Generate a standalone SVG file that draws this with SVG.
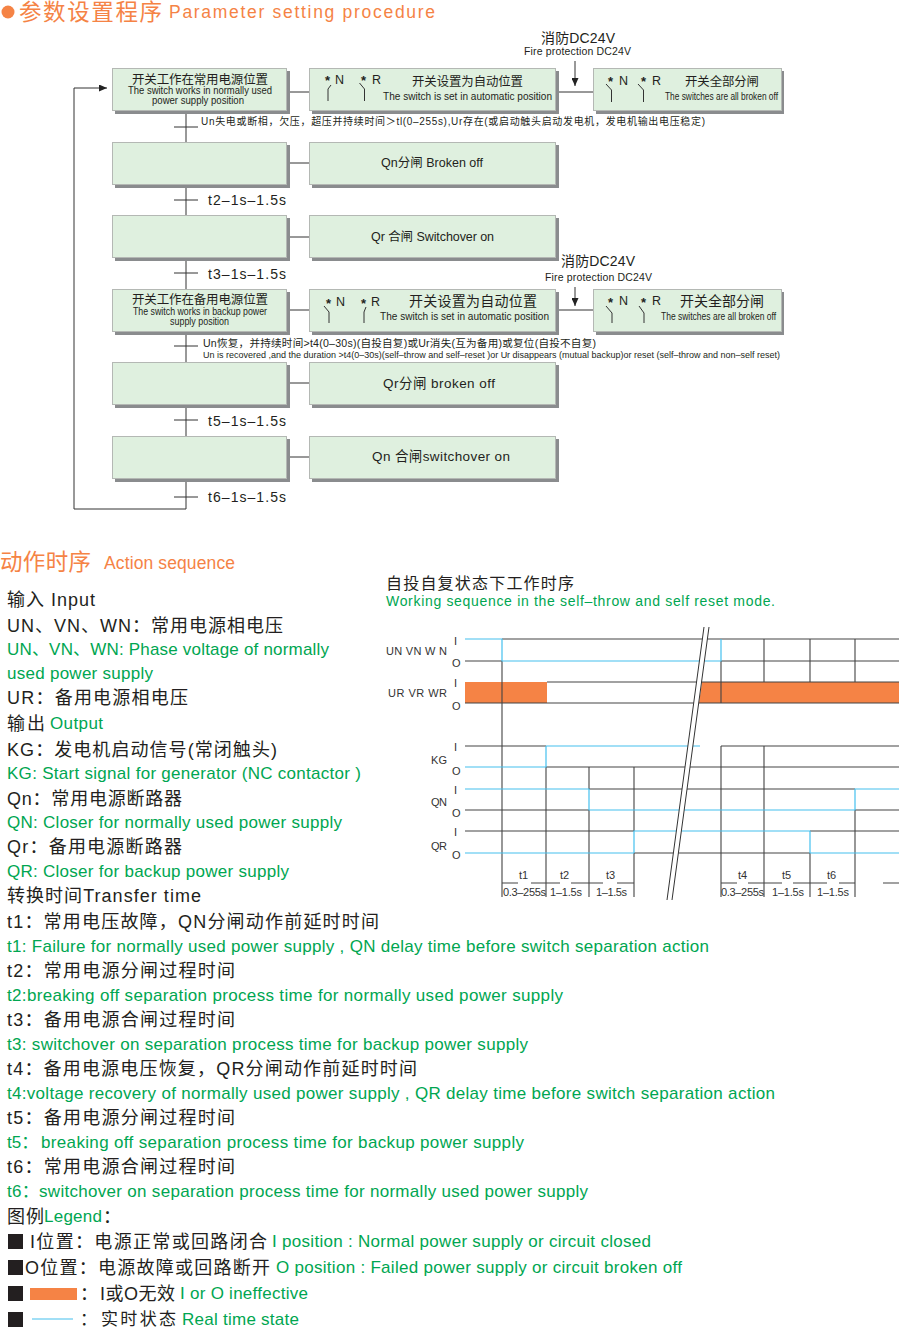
<svg xmlns="http://www.w3.org/2000/svg" width="900" height="1327" viewBox="0 0 900 1327">
<style>
text{font-family:"Liberation Sans","Noto Sans CJK SC",sans-serif;fill:#231f20}
.h{fill:#f58345;font-size:22.5px}
.he{fill:#f58345;font-size:17.5px}
.l{font-size:18px}
.g{font-size:17px;fill:#00a651}
.t{font-size:14px}
.s{font-size:10px}
.m{font-size:12.5px}
.d{font-size:11px;fill:#333}
.sy{font-size:12.5px}
.st{font-size:13px;font-weight:bold}
.box{fill:#dff0df;stroke:#b4b8b4;stroke-width:1}
.shadow{fill:#8a8c8e}
.c{fill:none;stroke:#333;stroke-width:1}
.k{fill:none;stroke:#444;stroke-width:1.1}
.b{fill:none;stroke:#45c0ee;stroke-width:1.2}
.sw{fill:none;stroke:#333;stroke-width:1}
</style>
<defs>
<marker id="arr" markerWidth="9" markerHeight="7" refX="8" refY="3.5" orient="auto" markerUnits="userSpaceOnUse"><path d="M0,0L8,3.5L0,7Z" fill="#222"/></marker>
<g id="n-box"><rect class="shadow" x="3" y="3" width="175" height="43"/><rect class="box" x=".5" y=".5" width="174" height="42"/></g>
<g id="m-box"><rect class="shadow" x="3" y="3" width="247" height="43"/><rect class="box" x=".5" y=".5" width="246" height="42"/></g>
<g id="r-box"><rect class="shadow" x="3" y="3" width="188" height="43"/><rect class="box" x=".5" y=".5" width="188" height="42"/></g>
</defs>

<g id="heading-1">
<circle cx="8" cy="12" r="6.5" fill="#f58345"/>
<text class="h" x="19" y="20" textLength="143">参数设置程序</text>
<text class="he" x="169" y="18" textLength="266">Parameter setting procedure</text>
</g>

<g id="connectors">
<path class="c" d="M186,110V142M174,127H198M186,184V215M174,200H198M186,258V289M174,273H198M186,331V362M174,346H198M186,404V436M174,420H198M186,478V509M174,497H198"/>
<path class="c" d="M287,92H309M287,163H309M287,237H309M287,310H309M287,383H309M287,457H309M556,92H593M556,310H593"/>
<path class="c" d="M186,509H74V88H107" marker-end="url(#arr)"/>
<path class="c" d="M575,61V86" marker-end="url(#arr)"/>
<path class="c" d="M575,287V306" marker-end="url(#arr)"/>
</g>

<g id="node-normal"><use href="#n-box" x="112" y="68"/>
<text x="132" y="84" font-size="12.5" textLength="136">开关工作在常用电源位置</text>
<text class="s" x="128" y="94" textLength="144" lengthAdjust="spacingAndGlyphs">The switch works in normally used</text>
<text class="s" x="152" y="104" textLength="92" lengthAdjust="spacingAndGlyphs">power supply position</text></g>
<g id="node-auto1"><use href="#m-box" x="309" y="68"/>
<text class="st" x="325" y="85">*</text><text class="sy" x="335" y="84">N</text>
<text class="st" x="361" y="85">*</text><text class="sy" x="372" y="84">R</text>
<path class="sw" d="M328,101V89L331,85M364.5,101V89L359.5,83"/>
<text x="412" y="86" font-size="12.4" textLength="111">开关设置为自动位置</text>
<text x="383" y="100" font-size="10.5" textLength="169" lengthAdjust="spacingAndGlyphs">The switch is set in automatic position</text></g>
<g id="node-off1"><use href="#r-box" x="593" y="68"/>
<text class="st" x="608" y="86">*</text><text class="sy" x="619" y="85">N</text>
<text class="st" x="641" y="86">*</text><text class="sy" x="652" y="85">R</text>
<path class="sw" d="M611.5,102V90L606,84M643.5,102V90L638,84"/>
<text x="685" y="86" font-size="12.4" textLength="74">开关全部分闸</text>
<text x="665" y="100" font-size="10.5" textLength="113" lengthAdjust="spacingAndGlyphs">The switches are all broken off</text></g>
<text x="541" y="43" font-size="14" textLength="74">消防DC24V</text>
<text x="524" y="55" font-size="10.5" textLength="107">Fire protection DC24V</text>
<text x="201" y="125" font-size="10" textLength="504">Un失电或断相，欠压，超压并持续时间＞tl(0–255s),Ur存在(或启动触头启动发电机，发电机输出电压稳定)</text>

<g id="node-blank2"><use href="#n-box" x="112" y="142"/></g>
<g id="node-qn-off"><use href="#m-box" x="309" y="142"/>
<text x="381" y="167" class="m" textLength="102">Qn分闸 Broken off</text></g>
<text class="t" x="208" y="205" textLength="78">t2–1s–1.5s</text>

<g id="node-blank3"><use href="#n-box" x="112" y="215"/></g>
<g id="node-qr-on"><use href="#m-box" x="309" y="215"/>
<text x="371" y="241" class="m" textLength="123">Qr 合闸 Switchover on</text></g>
<text class="t" x="208" y="279" textLength="78">t3–1s–1.5s</text>

<g id="node-backup"><use href="#n-box" x="112" y="289"/>
<text x="132" y="304" font-size="12.5" textLength="136">开关工作在备用电源位置</text>
<text class="s" x="133" y="315" textLength="134" lengthAdjust="spacingAndGlyphs">The switch works in backup power</text>
<text class="s" x="170" y="325" textLength="59" lengthAdjust="spacingAndGlyphs">supply position</text></g>
<g id="node-auto2"><use href="#m-box" x="309" y="289"/>
<text class="st" x="326" y="308">*</text><text class="sy" x="336" y="306">N</text>
<text class="st" x="361" y="308">*</text><text class="sy" x="371" y="306">R</text>
<path class="sw" d="M329,323V312L324,306M364,323V312L366,307"/>
<text x="409" y="306" font-size="14" textLength="128">开关设置为自动位置</text>
<text x="380" y="320" font-size="10.5" textLength="169" lengthAdjust="spacingAndGlyphs">The switch is set in automatic position</text></g>
<g id="node-off2"><use href="#r-box" x="593" y="289"/>
<text class="st" x="608" y="307">*</text><text class="sy" x="619" y="305">N</text>
<text class="st" x="641" y="307">*</text><text class="sy" x="652" y="305">R</text>
<path class="sw" d="M612,323V313L606,306M644,323V313L639,306"/>
<text x="680" y="306" font-size="14" textLength="84">开关全部分闸</text>
<text x="661" y="320" font-size="10.5" textLength="115" lengthAdjust="spacingAndGlyphs">The switches are all broken off</text></g>
<text x="561" y="266" font-size="14" textLength="74">消防DC24V</text>
<text x="545" y="281" font-size="10.5" textLength="107">Fire protection DC24V</text>
<text x="203" y="347" font-size="10.6" textLength="393">Un恢复，并持续时间&gt;t4(0–30s)(自投自复)或Ur消失(互为备用)或复位(自投不自复)</text>
<text x="203" y="358" font-size="9" textLength="577" lengthAdjust="spacingAndGlyphs">Un is recovered ,and the duration &gt;t4(0–30s)(self–throw and self–reset )or Ur disappears (mutual backup)or reset (self–throw and non–self reset)</text>

<g id="node-blank5"><use href="#n-box" x="112" y="362"/></g>
<g id="node-qr-off"><use href="#m-box" x="309" y="362"/>
<text x="383" y="388" font-size="13.5" textLength="112">Qr分闸 broken off</text></g>
<text class="t" x="208" y="426" textLength="78">t5–1s–1.5s</text>

<g id="node-blank6"><use href="#n-box" x="112" y="436"/></g>
<g id="node-qn-on"><use href="#m-box" x="309" y="436"/>
<text x="372" y="461" font-size="13.5" textLength="138">Qn 合闸switchover on</text></g>
<text class="t" x="208" y="502" textLength="78">t6–1s–1.5s</text>

<g id="heading-2">
<text class="h" x="0" y="570" textLength="91">动作时序</text>
<text class="he" x="104" y="569" textLength="131">Action sequence</text>
</g>

<g id="text-list">
<text class="l" x="7" y="606" textLength="88">输入 Input</text>
<text class="l" x="7" y="632" textLength="276">UN、VN、WN：常用电源相电压</text>
<text class="g" x="7" y="655" textLength="322">UN、VN、WN: Phase voltage of normally</text>
<text class="g" x="7" y="679" textLength="146">used power supply</text>
<text class="l" x="7" y="704" textLength="181">UR：备用电源相电压</text>
<text class="l" x="7" y="730" textLength="38">输出</text><text class="g" x="50" y="729" textLength="53">Output</text>
<text class="l" x="7" y="756" textLength="270">KG：发电机启动信号(常闭触头)</text>
<text class="g" x="7" y="779" textLength="354">KG: Start signal for generator (NC contactor )</text>
<text class="l" x="7" y="805" textLength="175">Qn：常用电源断路器</text>
<text class="g" x="7" y="828" textLength="335">QN: Closer for normally used power supply</text>
<text class="l" x="7" y="853" textLength="175">Qr：备用电源断路器</text>
<text class="g" x="7" y="877" textLength="282">QR: Closer for backup power supply</text>
<text class="l" x="7" y="902" textLength="194">转换时间Transfer time</text>
<text class="l" x="7" y="928" textLength="372">t1：常用电压故障，QN分闸动作前延时时间</text>
<text class="g" x="7" y="952" textLength="702">t1: Failure for normally used power supply , QN delay time before switch separation action</text>
<text class="l" x="7" y="977" textLength="228">t2：常用电源分闸过程时间</text>
<text class="g" x="7" y="1001" textLength="556">t2:breaking off separation process time for normally used power supply</text>
<text class="l" x="7" y="1026" textLength="228">t3：备用电源合闸过程时间</text>
<text class="g" x="7" y="1050" textLength="521">t3: switchover on separation process time for backup power supply</text>
<text class="l" x="7" y="1075" textLength="410">t4：备用电源电压恢复，QR分闸动作前延时时间</text>
<text class="g" x="7" y="1099" textLength="768">t4:voltage recovery of normally used power supply , QR delay time before switch separation action</text>
<text class="l" x="7" y="1124" textLength="228">t5：备用电源分闸过程时间</text>
<text class="g" x="7" y="1148">t5：</text><text class="g" x="41" y="1148" textLength="483">breaking off separation process time for backup power supply</text>
<text class="l" x="7" y="1173" textLength="228">t6：常用电源合闸过程时间</text>
<text class="g" x="7" y="1197" textLength="581">t6：switchover on separation process time for normally used power supply</text>
<text class="l" x="7" y="1223" textLength="37">图例</text><text class="g" x="44" y="1222" textLength="58">Legend</text><text class="l" x="103" y="1223">：</text>
</g>

<g id="legend">
<rect x="8" y="1234" width="15" height="15" fill="#231f20"/>
<text class="l" x="30" y="1248" textLength="237">I位置：电源正常或回路闭合</text>
<text class="g" x="272" y="1247" textLength="379">I position : Normal power supply or circuit closed</text>
<rect x="8" y="1260" width="15" height="15" fill="#231f20"/>
<text class="l" x="25" y="1274" textLength="245">O位置：电源故障或回路断开</text>
<text class="g" x="276" y="1273" textLength="406">O position : Failed power supply or circuit broken off</text>
<rect x="8" y="1286" width="15" height="15" fill="#231f20"/>
<rect x="30" y="1288" width="47" height="12" fill="#f58345"/>
<text class="l" x="80" y="1300">：</text>
<text class="l" x="100" y="1300" textLength="75">I或O无效</text>
<text class="g" x="180" y="1299" textLength="128">I or O ineffective</text>
<rect x="8" y="1312" width="15" height="15" fill="#231f20"/>
<path class="b" d="M32,1319H73"/>
<text x="80" y="1324.5" font-size="17">：</text>
<text x="101" y="1324.5" font-size="17" textLength="75">实时状态</text>
<text class="g" x="182" y="1325" textLength="117">Real time state</text>
</g>

<g id="timing">
<text x="386" y="589" font-size="16" textLength="188">自投自复状态下工作时序</text>
<text x="386" y="606" font-size="14" style="fill:#00a651" textLength="389">Working sequence in the self–throw and self reset mode.</text>

<rect x="465" y="682" width="82" height="21" fill="#f58345"/>
<path d="M702,682H899V703H699Z" fill="#f58345"/>
<path class="k" d="M502,639H899M465,661H502M721,661H899M547,682H899M465,703H899M465,746H546M721,746H899M546,767H899M589,789H855M465,810H589M855,810H899M465,831H634M810,831H899M634,853H810"/>
<path class="k" d="M502,661V897M546,767V897M589,767V789M589,810V897M634,767V831M634,853V897M721,661V703M721,746V897M764,639V682M764,746V897M810,639V682M810,853V897M855,639V682M855,810V897"/>
<path class="b" d="M465,639H502V661H721V639M546,746H700M465,767H546V746M465,789H589V810H855V789H899M634,853V831H810V853H899M465,853H634"/>
<path d="M704,627H709L672,900H667Z" fill="#fff"/>
<path d="M704,627L667,900M709,627L672,900" fill="none" stroke="#333" stroke-width="1"/>
<path class="k" d="M502,883H518M531,883H560M571,883H603M617,883H634M721,883H737M748,883H782M793,883H827M839,883H855M883,883H899"/>

<text class="d" x="386" y="655" textLength="61">UN  VN  W N</text>
<text class="d" x="388" y="697" textLength="59">UR  VR  WR</text>
<text class="d" x="431" y="764" textLength="16">KG</text>
<text class="d" x="431" y="806" textLength="16">QN</text>
<text class="d" x="431" y="850" textLength="16">QR</text>
<text class="d" x="454" y="645">I</text><text class="d" x="452" y="667">O</text>
<text class="d" x="454" y="687">I</text><text class="d" x="452" y="710">O</text>
<text class="d" x="454" y="751">I</text><text class="d" x="452" y="775">O</text>
<text class="d" x="454" y="794">I</text><text class="d" x="452" y="817">O</text>
<text class="d" x="454" y="836">I</text><text class="d" x="452" y="859">O</text>
<text class="d" x="519" y="879">t1</text><text class="d" x="560" y="879">t2</text><text class="d" x="606" y="879">t3</text>
<text class="d" x="738" y="879">t4</text><text class="d" x="782" y="879">t5</text><text class="d" x="827" y="879">t6</text>
<text class="d" x="503" y="896" textLength="43">0.3–255s</text><text class="d" x="550" y="896" textLength="32">1–1.5s</text><text class="d" x="596" y="896" textLength="31">1–1.5s</text>
<text class="d" x="721" y="896" textLength="43">0.3–255s</text><text class="d" x="772" y="896" textLength="32">1–1.5s</text><text class="d" x="817" y="896" textLength="32">1–1.5s</text>
</g>
</svg>
